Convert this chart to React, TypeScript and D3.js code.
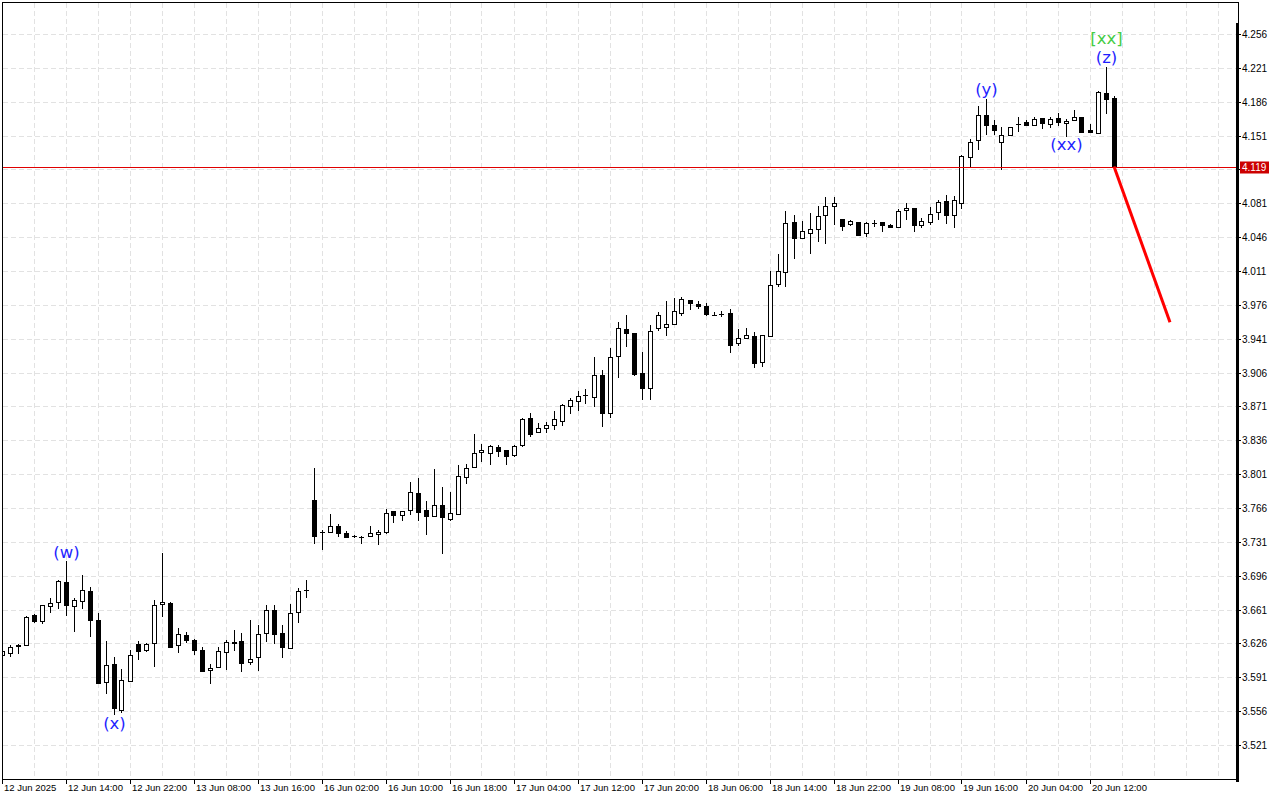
import React, { useEffect } from "react";
import * as d3 from "d3";

// ---- data ----
const timeLabels = [
  "12 Jun 2025", "12 Jun 14:00", "12 Jun 22:00", "13 Jun 08:00", "13 Jun 16:00",
  "16 Jun 02:00", "16 Jun 10:00", "16 Jun 18:00", "17 Jun 04:00", "17 Jun 12:00",
  "17 Jun 20:00", "18 Jun 06:00", "18 Jun 14:00", "18 Jun 22:00", "19 Jun 08:00",
  "19 Jun 16:00", "20 Jun 04:00", "20 Jun 12:00",
];
const timeLabelBars = [0, 8, 16, 24, 32, 40, 48, 56, 64, 72, 80, 88, 96, 104, 112, 120, 128, 136];

const priceTicks = [
  "3.521", "3.556", "3.591", "3.626", "3.661", "3.696", "3.731", "3.766", "3.801", "3.836", "3.871",
  "3.906", "3.941", "3.976", "4.011", "4.046", "4.081", "4.116", "4.151", "4.186", "4.221", "4.256",
];

const opens = [
  3.614, 3.616, 3.623, 3.624, 3.655, 3.649, 3.665, 3.669, 3.690, 3.665,
  3.670, 3.680, 3.650, 3.586, 3.605, 3.557, 3.587, 3.625, 3.619, 3.626,
  3.667, 3.668, 3.624, 3.635, 3.630, 3.619, 3.599, 3.602, 3.617, 3.626,
  3.628, 3.607, 3.612, 3.637, 3.661, 3.637, 3.621, 3.658, 3.681, 3.774,
  3.741, 3.741, 3.747, 3.740, 3.737, 3.736, 3.737, 3.739, 3.741, 3.763,
  3.759, 3.764, 3.781, 3.764, 3.758, 3.769, 3.755, 3.760, 3.798, 3.808,
  3.824, 3.823, 3.829, 3.826, 3.821, 3.831, 3.859, 3.845, 3.849, 3.852,
  3.856, 3.871, 3.877, 3.883, 3.881, 3.904, 3.864, 3.923, 3.951, 3.947,
  3.906, 3.890, 3.952, 3.953, 3.956, 3.968, 3.981, 3.977, 3.975, 3.966,
  3.967, 3.968, 3.937, 3.942, 3.944, 3.917, 3.944, 3.998, 4.010, 4.062,
  4.045, 4.050, 4.054, 4.069, 4.078, 4.065, 4.060, 4.062, 4.050, 4.061,
  4.062, 4.059, 4.057, 4.074, 4.076, 4.059, 4.062, 4.072, 4.083, 4.069,
  4.081, 4.129, 4.146, 4.172, 4.162, 4.144, 4.152, 4.163, 4.165, 4.162,
  4.169, 4.163, 4.169, 4.164, 4.167, 4.170, 4.157, 4.154, 4.195, 4.190,
];
const highs = [
  3.619, 3.624, 3.625, 3.654, 3.656, 3.666, 3.673, 3.692, 3.711, 3.673,
  3.697, 3.684, 3.657, 3.628, 3.612, 3.600, 3.619, 3.628, 3.626, 3.671,
  3.719, 3.669, 3.642, 3.638, 3.631, 3.622, 3.605, 3.622, 3.630, 3.640,
  3.637, 3.650, 3.645, 3.666, 3.666, 3.645, 3.667, 3.683, 3.692, 3.807,
  3.743, 3.760, 3.749, 3.742, 3.738, 3.737, 3.747, 3.743, 3.765, 3.763,
  3.763, 3.793, 3.797, 3.773, 3.806, 3.788, 3.783, 3.810, 3.811, 3.843,
  3.832, 3.831, 3.831, 3.826, 3.831, 3.859, 3.864, 3.854, 3.855, 3.866,
  3.873, 3.880, 3.887, 3.889, 3.922, 3.909, 3.931, 3.958, 3.965, 3.947,
  3.927, 3.955, 3.969, 3.980, 3.983, 3.984, 3.981, 3.980, 3.978, 3.969,
  3.970, 3.972, 3.951, 3.952, 3.948, 3.945, 4.011, 4.029, 4.073, 4.069,
  4.063, 4.071, 4.078, 4.088, 4.088, 4.065, 4.064, 4.062, 4.062, 4.064,
  4.062, 4.060, 4.075, 4.081, 4.076, 4.066, 4.077, 4.084, 4.090, 4.089,
  4.131, 4.147, 4.182, 4.189, 4.167, 4.160, 4.160, 4.170, 4.167, 4.170,
  4.169, 4.170, 4.174, 4.168, 4.177, 4.170, 4.163, 4.197, 4.222, 4.192,
];
const lows = [
  3.613, 3.613, 3.616, 3.624, 3.648, 3.647, 3.659, 3.663, 3.655, 3.639,
  3.663, 3.634, 3.585, 3.575, 3.553, 3.555, 3.587, 3.610, 3.618, 3.603,
  3.654, 3.622, 3.617, 3.627, 3.615, 3.598, 3.585, 3.602, 3.600, 3.619,
  3.597, 3.605, 3.599, 3.629, 3.626, 3.612, 3.621, 3.648, 3.674, 3.730,
  3.724, 3.741, 3.737, 3.736, 3.736, 3.730, 3.737, 3.729, 3.740, 3.752,
  3.754, 3.760, 3.754, 3.739, 3.758, 3.719, 3.754, 3.760, 3.792, 3.808,
  3.815, 3.812, 3.820, 3.811, 3.820, 3.830, 3.840, 3.845, 3.845, 3.848,
  3.852, 3.864, 3.867, 3.875, 3.871, 3.851, 3.860, 3.901, 3.933, 3.904,
  3.879, 3.879, 3.950, 3.945, 3.956, 3.965, 3.972, 3.973, 3.966, 3.966,
  3.964, 3.927, 3.934, 3.942, 3.912, 3.913, 3.944, 3.996, 3.996, 4.024,
  4.045, 4.030, 4.042, 4.040, 4.060, 4.053, 4.059, 4.048, 4.047, 4.058,
  4.052, 4.057, 4.056, 4.065, 4.052, 4.057, 4.060, 4.065, 4.061, 4.057,
  4.076, 4.118, 4.137, 4.153, 4.153, 4.116, 4.152, 4.156, 4.162, 4.162,
  4.159, 4.160, 4.162, 4.151, 4.167, 4.155, 4.155, 4.154, 4.174, 4.119,
];
const closes = [
  3.618, 3.622, 3.624, 3.653, 3.649, 3.666, 3.668, 3.691, 3.666, 3.671,
  3.681, 3.650, 3.585, 3.604, 3.559, 3.588, 3.614, 3.618, 3.625, 3.666,
  3.669, 3.622, 3.636, 3.630, 3.619, 3.598, 3.601, 3.618, 3.627, 3.627,
  3.606, 3.610, 3.636, 3.661, 3.636, 3.622, 3.657, 3.680, 3.681, 3.737,
  3.741, 3.747, 3.740, 3.736, 3.737, 3.736, 3.740, 3.741, 3.761, 3.759,
  3.763, 3.783, 3.762, 3.758, 3.769, 3.757, 3.761, 3.799, 3.807, 3.823,
  3.826, 3.830, 3.825, 3.820, 3.830, 3.858, 3.843, 3.849, 3.852, 3.858,
  3.872, 3.878, 3.882, 3.883, 3.904, 3.864, 3.922, 3.952, 3.947, 3.905,
  3.890, 3.949, 3.966, 3.956, 3.970, 3.982, 3.978, 3.975, 3.967, 3.966,
  3.967, 3.934, 3.942, 3.945, 3.916, 3.945, 3.997, 4.011, 4.061, 4.045,
  4.052, 4.054, 4.068, 4.078, 4.081, 4.058, 4.063, 4.048, 4.061, 4.061,
  4.059, 4.057, 4.073, 4.076, 4.059, 4.063, 4.070, 4.082, 4.069, 4.084,
  4.130, 4.144, 4.172, 4.162, 4.157, 4.152, 4.160, 4.163, 4.162, 4.168,
  4.164, 4.168, 4.165, 4.166, 4.170, 4.155, 4.155, 4.196, 4.189, 4.119,
];

const currentPrice = 4.119;
const forecastBars = [139, 146];
const forecastPrices = [4.119, 3.958];

const waveNames = ["(w)", "(x)", "(y)", "(xx)", "(z)", "[xx]"];
const waveBars = [8, 14, 123, 133, 138, 138];
const waveSide = ["above", "below", "above", "below", "above", "above2"];
const waveColors = ["#1f1fff", "#1f1fff", "#1f1fff", "#1f1fff", "#1f1fff", "#44cc44"];

// ---- layout ----
const W = 1280;
const H = 800;
const left = 2;
const top = 2;
const right = 1237;
const bottom = 779;

export default function App() {
  useEffect(() => {
    document.body.style.margin = "0";
  }, []);

  const x = d3.scaleLinear().domain([0, 139]).range([2, 1114]);
  const y = d3.scaleLinear().domain([3.521, 4.256]).range([745, 34]);
  const px = (i: number) => Math.floor(x(i)) + 0.5;
  const py = (p: number) => Math.round(y(p));

  const gridBars = d3.range(4, 156, 4);
  const grid = "#e2e2e2";
  const dash = "5,3";

  const candles = opens.map((o, i) => {
    const c = closes[i];
    const cx = px(i);
    const yH = py(highs[i]);
    const yL = py(lows[i]);
    const yO = py(o);
    const yC = py(c);
    const t = Math.min(yO, yC);
    const b = Math.max(yO, yC);
    const bull = c >= o;
    return (
      <g key={i}>
        <line x1={cx} x2={cx} y1={yH} y2={yL + 1} stroke="#000" strokeWidth={1} />
        {b - t >= 1 ? (
          <rect x={cx - 2} y={t + 0.5} width={4} height={b - t} fill={bull ? "#fff" : "#000"} stroke="#000" strokeWidth={1} />
        ) : (
          <line x1={cx - 2.5} x2={cx + 2.5} y1={t + 0.5} y2={t + 0.5} stroke="#000" strokeWidth={1} />
        )}
      </g>
    );
  });

  const lineGen = d3
    .line<number>()
    .x((_, k) => x(forecastBars[k]))
    .y((p) => y(p));

  const curY = py(currentPrice) + 0.5;

  return (
    <svg width={W} height={H} style={{ position: "absolute", left: 0, top: 0, background: "#fff" }}
      fontFamily="'Liberation Sans', Arial, sans-serif">
      <rect x={0} y={0} width={W} height={H} fill="#fff" />
      <defs>
        <clipPath id="plot">
          <rect x={left + 1} y={top + 1} width={right - left - 2} height={bottom - top - 1} />
        </clipPath>
      </defs>
      {/* grid */}
      <g>
        {gridBars.map((b) => {
          const gx = px(b);
          if (gx >= right - 1) return null;
          return <line key={"v" + b} x1={gx} x2={gx} y1={top + 1} y2={bottom} stroke={grid} strokeDasharray={dash} />;
        })}
        {priceTicks.map((t) => {
          const gy = py(+t) + 0.5;
          return <line key={"h" + t} x1={left + 1} x2={right - 1} y1={gy} y2={gy} stroke={grid} strokeDasharray={dash} />;
        })}
      </g>
      {/* candles */}
      <g clipPath="url(#plot)">{candles}</g>
      {/* current price line */}
      <line x1={left} x2={right - 1} y1={curY} y2={curY} stroke="#e00000" strokeWidth={1} />
      {/* forecast */}
      <path d={lineGen(forecastPrices) || ""} fill="none" stroke="#ff0000" strokeWidth={3} />
      {/* wave labels */}
      {waveNames.map((n, k) => {
        const b = waveBars[k];
        const side = waveSide[k];
        let ty: number;
        if (side === "above") ty = y(highs[b]) - 9;
        else if (side === "below") ty = y(lows[b]) + 9;
        else ty = y(highs[b]) - 28.5;
        return (
          <text key={n + k} x={x(b) + 0.5} y={ty} textAnchor="middle" dominantBaseline="central"
            fontFamily="'DejaVu Sans', Verdana, sans-serif" fontSize={16.5} fill={waveColors[k]}>
            {n}
          </text>
        );
      })}
      {/* frame */}
      <line x1={left} x2={right + 1} y1={top + 0.5} y2={top + 0.5} stroke="#000" />
      <line x1={left + 0.5} x2={left + 0.5} y1={top} y2={bottom} stroke="#000" />
      <line x1={left} x2={right + 1} y1={bottom + 0.5} y2={bottom + 0.5} stroke="#000" />
      <line x1={right + 1.5} x2={right + 1.5} y1={top} y2={23} stroke="#000" />
      <rect x={right - 1} y={23} width={3} height={bottom - 23 + 3} fill="#000" />
      {/* price axis */}
      {priceTicks.map((t) => {
        const gy = py(+t) + 0.5;
        return (
          <g key={"p" + t}>
            <line x1={right + 2} x2={right + 4} y1={gy} y2={gy} stroke="#000" />
            <text x={right + 5} y={gy} dominantBaseline="central" fontSize={10} fill="#000">{t}</text>
          </g>
        );
      })}
      <rect x={right + 3} y={curY - 6} width={29} height={12} fill="#cc0000" />
      <text x={right + 5} y={curY} dominantBaseline="central" fontSize={10} fill="#fff">{currentPrice.toFixed(3)}</text>
      {/* time axis */}
      {timeLabels.map((l, k) => {
        const tx = px(timeLabelBars[k]);
        return (
          <g key={"t" + k}>
            <line x1={tx} x2={tx} y1={bottom} y2={bottom + 5} stroke="#000" />
            <text x={tx + 1.5} y={bottom + 12} fontSize={9.5} fill="#000">{l}</text>
          </g>
        );
      })}
    </svg>
  );
}
